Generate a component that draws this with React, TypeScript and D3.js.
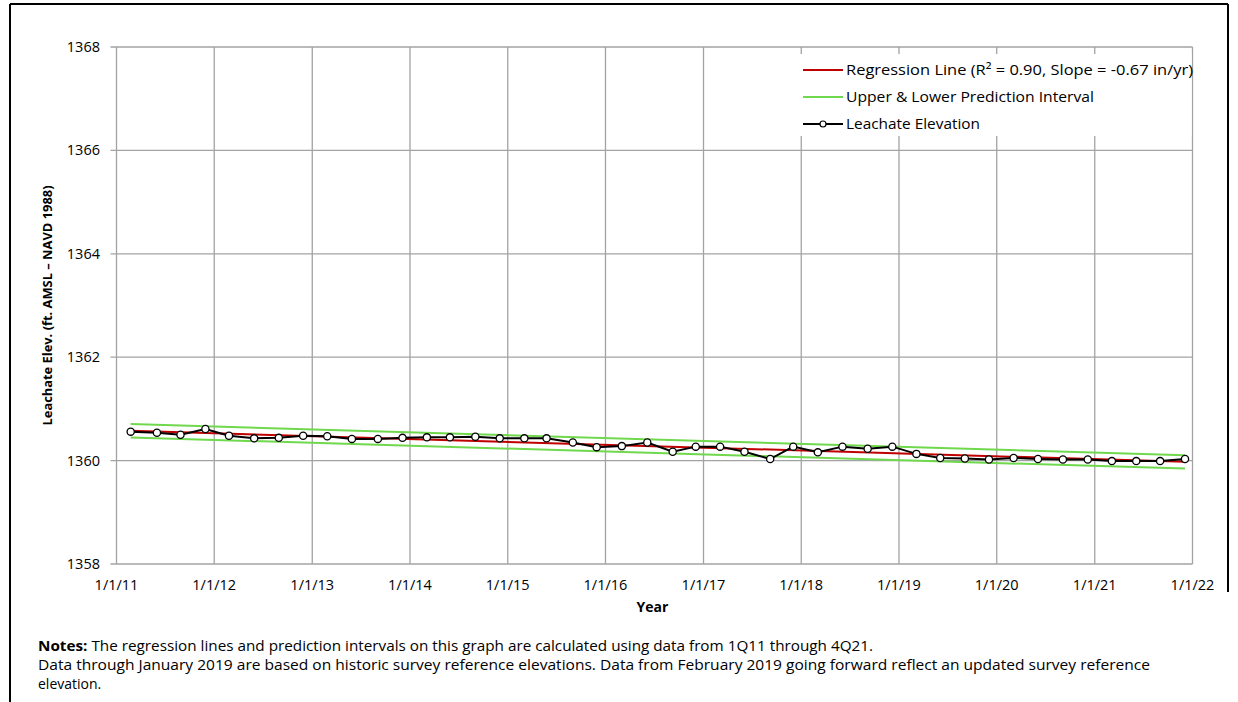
import React from "react";
import * as d3 from "d3";

// Quarterly leachate elevation readings (ft AMSL, NAVD 1988)
const sampleDates: string[] = [
  "2011-02-23", "2011-06-01", "2011-08-28", "2011-11-29",
  "2012-02-25", "2012-05-29", "2012-08-29", "2012-11-28",
  "2013-02-26", "2013-05-29", "2013-09-03", "2013-12-04",
  "2014-03-05", "2014-05-30", "2014-09-02", "2014-12-02",
  "2015-03-04", "2015-05-26", "2015-09-01", "2015-11-29",
  "2016-03-02", "2016-06-05", "2016-09-08", "2016-12-03",
  "2017-03-04", "2017-06-03", "2017-09-07", "2017-12-02",
  "2018-03-04", "2018-06-04", "2018-09-06", "2018-12-07",
  "2019-03-07", "2019-06-04", "2019-09-04", "2019-12-03",
  "2020-03-04", "2020-06-03", "2020-09-04", "2020-12-06",
  "2021-03-06", "2021-06-05", "2021-09-02", "2021-12-04",
];

const leachateElevation: number[] = [
  1360.56, 1360.54, 1360.5, 1360.61,
  1360.48, 1360.43, 1360.44, 1360.48,
  1360.47, 1360.42, 1360.42, 1360.44,
  1360.45, 1360.45, 1360.46, 1360.43,
  1360.43, 1360.43, 1360.35, 1360.26,
  1360.28, 1360.35, 1360.17, 1360.27,
  1360.27, 1360.17, 1360.03, 1360.27,
  1360.16, 1360.27, 1360.23, 1360.27,
  1360.13, 1360.05, 1360.04, 1360.02,
  1360.05, 1360.03, 1360.02, 1360.02,
  1359.99, 1359.99, 1359.99, 1360.03,
];

const yTicks: number[] = [1358, 1360, 1362, 1364, 1366, 1368];
const xDomain: string[] = ["2011-01-01", "2022-01-01"];

// Regression statistics
const regressionR2 = 0.9;
const regressionSlopeInPerYr = -0.67;
const predictionHalfWidthFt = 0.13;

const legendLabels: string[] = [
  `Regression Line (R\u00B2 = ${regressionR2.toFixed(2)}, Slope = ${regressionSlopeInPerYr.toFixed(2)} in/yr)`,
  "Upper & Lower Prediction Interval",
  "Leachate Elevation",
];

const notesLines: string[] = [
  "The regression lines and prediction intervals on this graph are calculated using data from 1Q11 through 4Q21.",
  "Data through January 2019 are based on historic survey reference elevations. Data from February 2019 going forward reflect an updated survey reference",
  "elevation.",
];

const W = 1238;
const H = 702;
const plot = { left: 116.5, right: 1192.5, top: 47, bottom: 564 };
const FONT = "'Open Sans', Lato, sans-serif";
const GRID = "#a3a3a3";
const RED = "#c00000";
const GREEN = "#70d84c";

export default function App() {
  const parse = d3.timeParse("%Y-%m-%d");
  const dates = sampleDates.map((s) => parse(s) as Date);
  const x = d3
    .scaleTime()
    .domain(xDomain.map((s) => parse(s) as Date))
    .range([plot.left, plot.right]);
  const y = d3.scaleLinear().domain([1358, 1368]).range([plot.bottom, plot.top]);

  const yearMs = 365.25 * 24 * 3600 * 1000;
  const t = dates.map((d) => d.getTime() / yearMs);
  const tMean = d3.mean(t) as number;
  const vMean = d3.mean(leachateElevation) as number;
  const slopeFt = regressionSlopeInPerYr / 12;
  const fit = (d: Date) => vMean + slopeFt * (d.getTime() / yearMs - tMean);
  const ends = [dates[0], dates[dates.length - 1]];

  const line = d3
    .line<[Date, number]>()
    .x((d) => x(d[0]))
    .y((d) => y(d[1]));

  const points: [Date, number][] = dates.map((d, i) => [d, leachateElevation[i]]);
  const regPts: [Date, number][] = ends.map((d) => [d, fit(d)]);
  const upperPts: [Date, number][] = ends.map((d) => [d, fit(d) + predictionHalfWidthFt]);
  const lowerPts: [Date, number][] = ends.map((d) => [d, fit(d) - predictionHalfWidthFt]);

  const xTicks = d3.timeYear.range(
    parse(xDomain[0]) as Date,
    d3.timeDay.offset(parse(xDomain[1]) as Date, 1)
  );
  const fmt = d3.timeFormat("%-m/%-d/%y");

  const legendX = 803;
  const legendY0 = 70;
  const legendDy = 27;
  const legendWidths = [347, 248, 134];

  return (
    <svg
      width={W}
      height={H}
      viewBox={`0 0 ${W} ${H}`}
      style={{ position: "absolute", left: 0, top: 0, background: "#fff" }}
      fontFamily={FONT}
    >
      <rect x={0} y={0} width={W} height={H} fill="#fff" />
      {/* outer frame */}
      <line x1={10} y1={4} x2={1228} y2={4} stroke="#000" strokeWidth={2} />
      <line x1={10} y1={4} x2={10} y2={H} stroke="#000" strokeWidth={2} />
      <line x1={1228} y1={4} x2={1228} y2={592} stroke="#000" strokeWidth={2} />

      {/* gridlines */}
      {yTicks.map((v) => (
        <g key={`y${v}`}>
          <line x1={plot.left - 6} x2={plot.right} y1={y(v)} y2={y(v)} stroke={GRID} strokeWidth={1.3} />
          <text x={100} y={y(v)} dy="0.35em" textAnchor="end" fontSize={14.5} fill="#000">
            {v}
          </text>
        </g>
      ))}
      {xTicks.map((d) => (
        <g key={`x${d.getFullYear()}`}>
          <line x1={x(d)} x2={x(d)} y1={plot.top} y2={plot.bottom} stroke={GRID} strokeWidth={1.3} />
          <text x={x(d)} y={585} dy="0.35em" textAnchor="middle" fontSize={14.5} fill="#000">
            {fmt(d)}
          </text>
        </g>
      ))}

      {/* legend panel */}
      <rect x={790} y={54} width={plot.right - 790 - 1} height={82} fill="#fff" />
      {legendLabels.map((label, i) => {
        const ly = legendY0 + i * legendDy;
        const color = i === 0 ? RED : i === 1 ? GREEN : "#000";
        return (
          <g key={label}>
            <line x1={legendX} x2={legendX + 40} y1={ly} y2={ly} stroke={color} strokeWidth={2} />
            {i === 2 && <circle cx={legendX + 20} cy={ly} r={3} fill="#fff" stroke="#000" strokeWidth={1.2} />}
            <text
              x={legendX + 43}
              y={ly}
              dy="0.35em"
              fontSize={15}
              fill="#000"
              textLength={legendWidths[i]}
              lengthAdjust="spacingAndGlyphs"
            >
              {label}
            </text>
          </g>
        );
      })}

      {/* prediction interval and regression */}
      <path d={line(upperPts) as string} fill="none" stroke={GREEN} strokeWidth={2} />
      <path d={line(lowerPts) as string} fill="none" stroke={GREEN} strokeWidth={2} />
      <path d={line(regPts) as string} fill="none" stroke={RED} strokeWidth={2} />

      {/* observed elevations */}
      <path d={line(points) as string} fill="none" stroke="#000" strokeWidth={2} />
      {points.map((p, i) => (
        <circle key={i} cx={x(p[0])} cy={y(p[1])} r={3.6} fill="#fff" stroke="#000" strokeWidth={1.3} />
      ))}

      {/* axis titles */}
      <text x={(plot.left + plot.right) / 2 - 2} y={607} dy="0.35em" textAnchor="middle" fontSize={14} fontWeight="bold">
        Year
      </text>
      <text
        transform={`translate(47,${(plot.top + plot.bottom) / 2}) rotate(-90)`}
        dy="0.35em"
        textAnchor="middle"
        fontSize={13}
        fontWeight="bold"
        textLength={240}
        lengthAdjust="spacingAndGlyphs"
      >
        Leachate Elev. (ft. AMSL – NAVD 1988)
      </text>

      {/* notes */}
      <text x={38} y={646} dy="0.35em" fontSize={14} textLength={835} lengthAdjust="spacingAndGlyphs">
        <tspan fontWeight="bold">Notes:</tspan> {notesLines[0]}
      </text>
      <text x={38} y={665} dy="0.35em" fontSize={14} textLength={1112} lengthAdjust="spacingAndGlyphs">
        {notesLines[1]}
      </text>
      <text x={38} y={684} dy="0.35em" fontSize={14}>
        {notesLines[2]}
      </text>
    </svg>
  );
}
